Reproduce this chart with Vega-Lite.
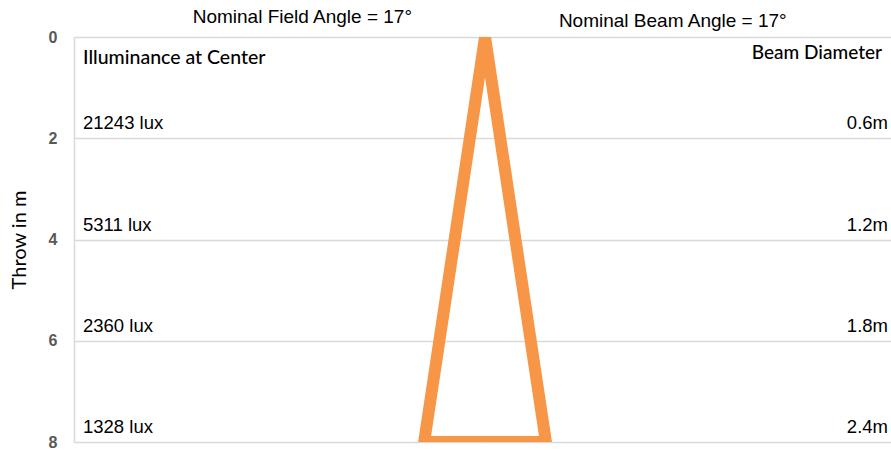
{
  "$schema": "https://vega.github.io/schema/vega-lite/v6.json",
  "width": 817,
  "height": 405,
  "autosize": {"type": "none"},
  "padding": {"left": 74, "top": 37, "right": 0, "bottom": 8},
  "background": "white",
  "config": {"view": {"stroke": null}},
  "datasets": {
    "beam": [
      {"step": 1, "halfWidth": 0, "throw": 8},
      {"step": 2, "halfWidth": 1.2, "throw": 8},
      {"step": 3, "halfWidth": 0, "throw": 0},
      {"step": 4, "halfWidth": -1.2, "throw": 8},
      {"step": 5, "halfWidth": 0, "throw": 8}
    ],
    "rows": [
      {"throw": 2, "lux": "21243 lux", "diameter": "0.6m"},
      {"throw": 4, "lux": "5311 lux", "diameter": "1.2m"},
      {"throw": 6, "lux": "2360 lux", "diameter": "1.8m"},
      {"throw": 8, "lux": "1328 lux", "diameter": "2.4m"}
    ]
  },
  "layer": [
    {
      "data": {"name": "beam"},
      "mark": {"type": "line", "color": "#F79646", "strokeWidth": 12, "strokeJoin": "miter", "clip": true},
      "encoding": {
        "order": {"field": "step", "type": "quantitative"},
        "x": {"field": "halfWidth", "type": "quantitative", "scale": {"domain": [-8.1, 8.0], "nice": false, "zero": false}, "axis": null},
        "y": {"field": "throw", "type": "quantitative", "scale": {"domain": [0, 8], "reverse": true, "nice": false},
          "axis": {"values": [0, 2, 4, 6, 8], "grid": true, "gridColor": "#D9D9D9", "gridWidth": 1.5, "domain": true, "domainColor": "#D9D9D9", "domainWidth": 1.5, "ticks": false,
            "labelFont": "Liberation Sans", "labelFontWeight": "bold", "labelFontSize": 16, "labelColor": "#595959", "labelPadding": 17,
            "title": "Throw in m", "titleFont": "Lato", "titleFontSize": 20, "titleFontWeight": "normal", "titleColor": "#000000", "titlePadding": 19}}
      }
    },
    {
      "data": {"name": "rows"},
      "mark": {"type": "text", "align": "left", "baseline": "middle", "dx": 9, "dy": -15, "font": "Liberation Sans", "fontSize": 18.5, "color": "#000000"},
      "encoding": {
        "x": {"datum": -8.1, "type": "quantitative"},
        "y": {"field": "throw", "type": "quantitative"},
        "text": {"field": "lux"}
      }
    },
    {
      "data": {"name": "rows"},
      "mark": {"type": "text", "align": "right", "baseline": "middle", "dx": -3, "dy": -15, "font": "Liberation Sans", "fontSize": 18.5, "color": "#000000"},
      "encoding": {
        "x": {"datum": 8.0, "type": "quantitative"},
        "y": {"field": "throw", "type": "quantitative"},
        "text": {"field": "diameter"}
      }
    },
    {
      "data": {"values": [{"label": "Illuminance at Center"}]},
      "mark": {"type": "text", "align": "left", "baseline": "middle", "dx": 9, "dy": 21, "font": "Lato", "fontSize": 19.5, "fontWeight": 500, "color": "#000000"},
      "encoding": {
        "x": {"datum": -8.1, "type": "quantitative"},
        "y": {"datum": 0, "type": "quantitative"},
        "text": {"field": "label"}
      }
    },
    {
      "data": {"values": [{"label": "Beam Diameter"}]},
      "mark": {"type": "text", "align": "right", "baseline": "middle", "dx": -9, "dy": 16, "font": "Lato", "fontSize": 19, "fontWeight": 500, "color": "#000000"},
      "encoding": {
        "x": {"datum": 8.0, "type": "quantitative"},
        "y": {"datum": 0, "type": "quantitative"},
        "text": {"field": "label"}
      }
    },
    {
      "data": {"values": [{"label": "Nominal Field Angle = 17°"}]},
      "mark": {"type": "text", "align": "center", "baseline": "middle", "font": "Liberation Sans", "fontSize": 19, "color": "#000000"},
      "encoding": {
        "x": {"datum": -3.6, "type": "quantitative"},
        "y": {"datum": -0.39, "type": "quantitative"},
        "text": {"field": "label"}
      }
    },
    {
      "data": {"values": [{"label": "Nominal Beam Angle = 17°"}]},
      "mark": {"type": "text", "align": "center", "baseline": "middle", "font": "Liberation Sans", "fontSize": 19, "color": "#000000"},
      "encoding": {
        "x": {"datum": 3.7, "type": "quantitative"},
        "y": {"datum": -0.32, "type": "quantitative"},
        "text": {"field": "label"}
      }
    }
  ]
}
